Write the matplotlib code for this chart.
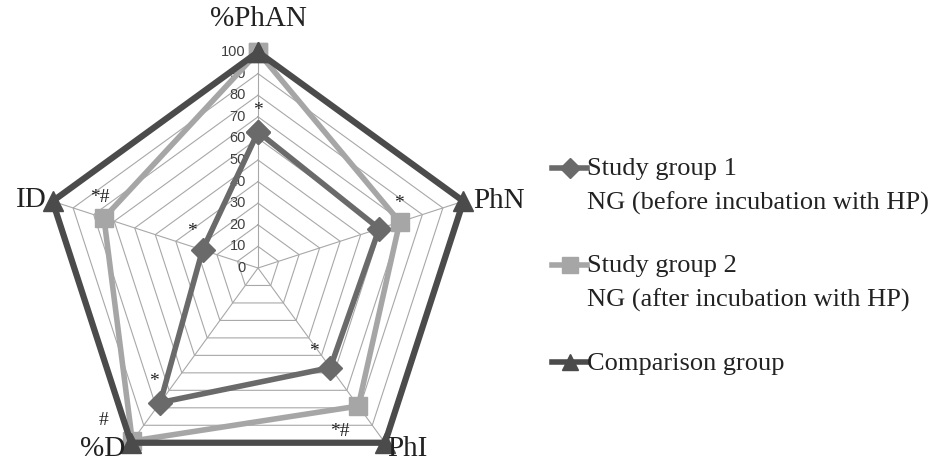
#!/usr/bin/env python3
# Radar chart: phagocytosis indices, study groups vs comparison group

import numpy as np
import matplotlib.pyplot as plt
from matplotlib.lines import Line2D

plt.rcParams.update({
    "font.family": ["Liberation Serif", "DejaVu Serif"],
})

# ============================================================
# DATA
# ============================================================

AXES_LABELS = ["%PhAN", "PhN", "PhI", "%D", "ID"]

SG1 = [63, 59, 57, 77, 27]     # Study group 1 (before incubation)
SG2 = [100, 69, 79, 99, 75]    # Study group 2 (after incubation)
COMP = [100, 100, 100, 100, 100]

R_TICKS = [0, 10, 20, 30, 40, 50, 60, 70, 80, 90, 100]

# significance marks: (axis index, series, text, dx px, dy px)
MARKS = [
    (0, "SG1", "*", 0, 21),
    (1, "SG2", "*", -1, 18),
    (2, "SG1", "*", -16, 16),
    (2, "SG2", "*#", -19, -25),
    (3, "SG1", "*", -6, 21),
    (3, "COMP", "#", -28, 22),
    (4, "SG1", "*", -11, 18),
    (4, "SG2", "*#", -4, 20),
]

LEGEND_LABELS = ["Study group 1\nNG (before incubation with HP)",
                 "Study group 2\nNG (after incubation with HP)",
                 "Comparison group"]

C_SG1 = "#6a6a6a"
C_SG2 = "#a6a6a6"
C_COMP = "#4b4b4b"
C_GRID = "#a8a8a8"

# ============================================================
# FIGURE
# ============================================================

fig = plt.figure(figsize=(9.33, 4.62), dpi=100)
ax = fig.add_axes([42 / 933, -22 / 462, 432 / 933, 432 / 462], projection="polar")
ax.set_theta_offset(np.pi / 2)
ax.set_theta_direction(-1)
ax.set_ylim(0, 100)
ax.grid(False)
ax.set_xticks([])
ax.set_yticks([])
ax.spines["polar"].set_visible(False)
ax.patch.set_alpha(0)

n = len(AXES_LABELS)
theta = np.arange(n) * 2 * np.pi / n
theta_c = np.append(theta, theta[0])

# polygon grid
for r in R_TICKS[1:]:
    ax.plot(theta_c, [r] * (n + 1), color=C_GRID, lw=0.8, zorder=1)
for t in theta:
    ax.plot([t, t], [0, 100], color=C_GRID, lw=0.8, zorder=1)

# radial tick labels along top axis
for r in R_TICKS:
    ax.annotate(str(r), xy=(0, r), xytext=(-12, 0), textcoords="offset pixels",
                ha="right", va="center", fontsize=10.5, color="#404040",
                family="Liberation Sans", zorder=2)

series = {"SG1": SG1, "SG2": SG2, "COMP": COMP}

def closed(v):
    return np.append(v, v[0])

ax.plot(theta_c, closed(SG1), color=C_SG1, lw=4, marker="D", ms=12,
        clip_on=False, zorder=3)
ax.plot(theta_c, closed(SG2), color=C_SG2, lw=4, marker="s", ms=13,
        clip_on=False, zorder=4)
ax.plot(theta_c, closed(COMP), color=C_COMP, lw=4.5, marker="^", ms=15,
        clip_on=False, zorder=5)

# axis labels
label_offsets = [(0, 33, "center", "center"), (10, 0, "left", "center"),
                 (2, -6, "left", "center"), (-6, -6, "right", "center"),
                 (-6, 1, "right", "center")]
for t, lab, (dx, dy, ha, va) in zip(theta, AXES_LABELS, label_offsets):
    ax.annotate(lab, xy=(t, 100), xytext=(dx, dy), textcoords="offset pixels",
                ha=ha, va=va, fontsize=21, color="#222222",
                annotation_clip=False, zorder=6)

# significance marks
for i, key, txt, dx, dy in MARKS:
    ax.annotate(txt, xy=(theta[i], series[key][i]), xytext=(dx, dy),
                textcoords="offset pixels", ha="center", va="center",
                fontsize=14, color="#222222", annotation_clip=False, zorder=6)

# ============================================================
# LEGEND (drawn by hand to keep the handle on the first line)
# ============================================================

handles = [(C_SG1, "D", 10), (C_SG2, "s", 11), (C_COMP, "^", 12)]
handle_y = [168, 265, 362]     # px from top, level with first text line
last_base = [210, 307, 370]    # baseline of each entry's last line
for (c, m, ms), lab, yh, yb in zip(handles, LEGEND_LABELS, handle_y, last_base):
    yf = 1 - yh / 462
    fig.add_artist(Line2D([552 / 933, 569.5 / 933, 587 / 933], [yf, yf, yf],
                          color=c, lw=4, marker=m, ms=ms, markevery=[1],
                          transform=fig.transFigure))
    fig.text(587 / 933, 1 - yb / 462, lab, fontsize=19, ha="left",
             va="baseline", color="#222222", linespacing=1.65)

fig.savefig("out.png", dpi=100)
